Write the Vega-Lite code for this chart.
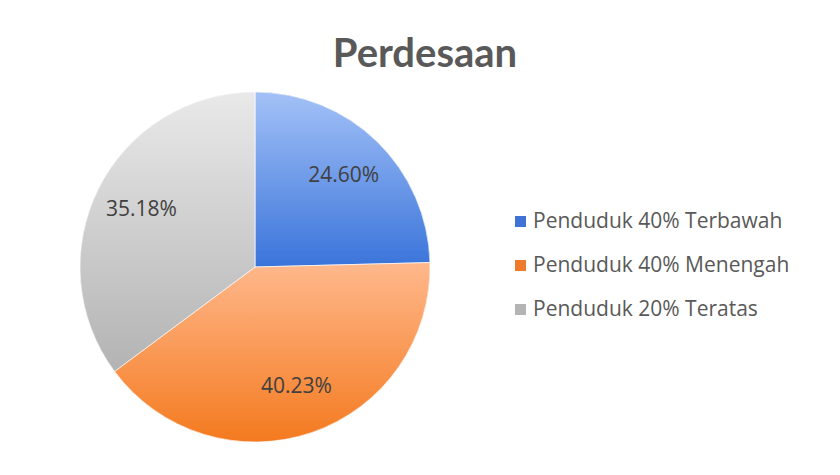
{
  "$schema": "https://vega.github.io/schema/vega-lite/v6.json",
  "width": 350,
  "height": 350,
  "autosize": {"type": "none"},
  "padding": {"left": 80, "top": 92, "right": 410, "bottom": 33},
  "background": "#ffffff",
  "title": {
    "text": "Perdesaan",
    "font": "Lato",
    "fontSize": 40,
    "fontWeight": "bold",
    "color": "#595959",
    "anchor": "middle",
    "frame": "group",
    "dx": 170,
    "offset": 16
  },
  "config": {"view": {"stroke": null}},
  "data": {
    "values": [
      {"kelompok": "Penduduk 40% Terbawah", "persen": 24.60, "label": "24.60%", "urut": 1},
      {"kelompok": "Penduduk 40% Menengah", "persen": 40.23, "label": "40.23%", "urut": 2},
      {"kelompok": "Penduduk 20% Teratas", "persen": 35.18, "label": "35.18%", "urut": 3}
    ]
  },
  "encoding": {
    "theta": {"field": "persen", "type": "quantitative", "stack": true},
    "order": {"field": "urut", "type": "quantitative"}
  },
  "layer": [
    {
      "mark": {"type": "arc", "outerRadius": 175},
      "encoding": {
        "color": {
          "field": "kelompok",
          "type": "nominal",
          "sort": ["Penduduk 40% Terbawah", "Penduduk 40% Menengah", "Penduduk 20% Teratas"],
          "scale": {
            "domain": ["Penduduk 40% Terbawah", "Penduduk 40% Menengah", "Penduduk 20% Teratas"],
            "range": ["#3f74d6", "#f07a2c", "#b4b4b4"]
          },
          "legend": {
            "title": null,
            "orient": "none",
            "legendX": 430,
            "legendY": 119,
            "symbolType": "square",
            "symbolSize": 121,
            "symbolStrokeWidth": 0,
            "labelFont": "Open Sans",
            "labelFontSize": 21,
            "labelColor": "#595959",
            "labelLimit": 400,
            "labelOffset": 2,
            "rowPadding": 22
          }
        }
      }
    },
    {
      "mark": {"type": "arc", "outerRadius": 175, "stroke": "#ffffff", "strokeWidth": 0.7},
      "encoding": {
        "fill": {
          "condition": [
            {
              "test": "datum.urut === 1",
              "value": {"gradient": "linear", "x1": 0, "y1": 0, "x2": 0, "y2": 1,
                "stops": [{"offset": 0, "color": "#a3c1f7"}, {"offset": 1, "color": "#3a74da"}]}
            },
            {
              "test": "datum.urut === 2",
              "value": {"gradient": "linear", "x1": 0, "y1": 0, "x2": 0, "y2": 1,
                "stops": [{"offset": 0, "color": "#ffb88c"}, {"offset": 1, "color": "#f47a1f"}]}
            }
          ],
          "value": {"gradient": "linear", "x1": 0, "y1": 0, "x2": 0, "y2": 1,
            "stops": [{"offset": 0, "color": "#e9e9e9"}, {"offset": 1, "color": "#b3b3b3"}]}
        }
      }
    },
    {
      "mark": {"type": "text", "radius": 127, "font": "Open Sans", "fontSize": 21, "color": "#404040"},
      "encoding": {
        "text": {"field": "label", "type": "nominal"}
      }
    }
  ]
}
